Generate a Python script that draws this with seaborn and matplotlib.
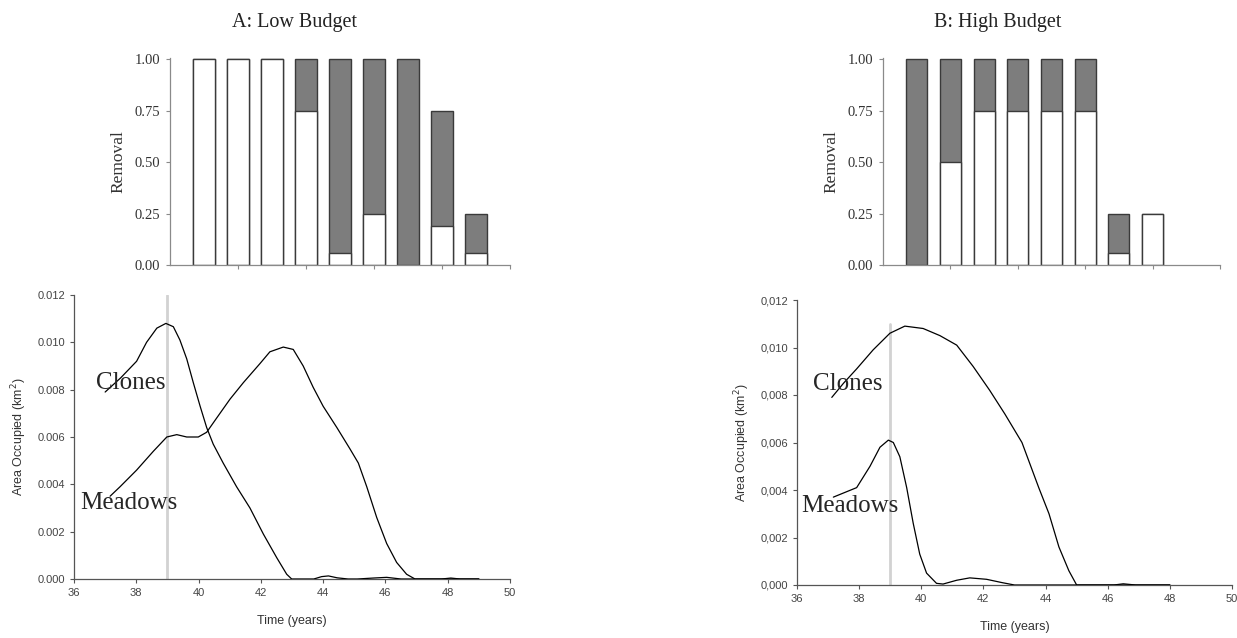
import matplotlib
matplotlib.use("Agg")
import numpy as np
import pandas as pd
import matplotlib.pyplot as plt
import seaborn as sns
from matplotlib.ticker import FuncFormatter

# ================= DATA =================
steps = [1, 2, 3, 4, 5, 6, 7, 8, 9]

# removal per step: white = lower part of the bar, grey = upper part
low_white = [1.00, 1.00, 1.00, 0.75, 0.06, 0.25, 0.00, 0.19, 0.06]
low_grey = [0.00, 0.00, 0.00, 0.25, 0.94, 0.75, 1.00, 0.56, 0.19]
high_white = [0.00, 0.50, 0.75, 0.75, 0.75, 0.75, 0.06, 0.25, 0.00]
high_grey = [1.00, 0.50, 0.25, 0.25, 0.25, 0.25, 0.19, 0.00, 0.00]

# area occupied (km2), low budget
low_clones_t = [37.00, 37.50, 38.01, 38.33, 38.66, 38.95, 39.19, 39.40, 39.62, 39.83,
                40.05, 40.26, 40.47, 40.79, 41.22, 41.65, 42.08, 42.51, 42.83, 42.99,
                43.70, 43.95, 44.17, 44.45, 44.80, 45.10, 45.60, 46.04, 46.50, 49.00]
low_clones_v = [0.0079, 0.0085, 0.0092, 0.0100, 0.0106, 0.0108, 0.01066, 0.0101, 0.0093, 0.0083,
                0.0073, 0.0064, 0.0057, 0.0049, 0.0039, 0.0030, 0.0019, 0.0009, 0.0002, 0.0,
                0.0, 0.0001, 0.00013, 0.00005, 0.0, 0.0, 0.00004, 0.00007, 0.0, 0.0]
low_meadows_t = [37.16, 37.48, 38.01, 38.55, 38.98, 39.30, 39.62, 39.99, 40.26, 40.58,
                 41.01, 41.44, 41.97, 42.29, 42.72, 43.04, 43.36, 43.68, 44.00, 44.44,
                 44.86, 45.13, 45.40, 45.72, 46.04, 46.36, 46.68, 46.95, 47.80, 48.10,
                 48.40, 49.00]
low_meadows_v = [0.0035, 0.0039, 0.0046, 0.0054, 0.0060, 0.0061, 0.0060, 0.0060, 0.0062, 0.0068,
                 0.0076, 0.0083, 0.0091, 0.0096, 0.0098, 0.0097, 0.0090, 0.0081, 0.0073, 0.0064,
                 0.0055, 0.0049, 0.0039, 0.0026, 0.0015, 0.0007, 0.0002, 0.0, 0.0, 0.00004,
                 0.0, 0.0]

# area occupied (km2), high budget
high_clones_t = [37.12, 37.50, 37.92, 38.45, 38.99, 39.47, 40.06, 40.60, 41.14, 41.67,
                 42.20, 42.69, 43.24, 43.78, 44.11, 44.43, 44.75, 45.00, 48.00]
high_clones_v = [0.0079, 0.0085, 0.0091, 0.0099, 0.0106, 0.0109, 0.0108, 0.0105, 0.0101, 0.0092,
                 0.0082, 0.0072, 0.0060, 0.0041, 0.0030, 0.0016, 0.0006, 0.0, 0.0]
high_meadows_t = [37.17, 37.92, 38.35, 38.67, 38.94, 39.10, 39.31, 39.53, 39.74, 39.95,
                  40.17, 40.49, 40.70, 41.14, 41.56, 42.10, 42.60, 43.00, 46.20, 46.50,
                  46.90, 48.00]
high_meadows_v = [0.0037, 0.0041, 0.0050, 0.0058, 0.0061, 0.0060, 0.0054, 0.0041, 0.0026, 0.0013,
                  0.0005, 0.00007, 0.00004, 0.0002, 0.0003, 0.00024, 0.0001, 0.0, 0.0, 0.00005,
                  0.0, 0.0]

SERIF = "Liberation Serif"
SANS = "Liberation Sans"
GREY = "#7d7d7d"
EDGE = "#3a3a3a"

sns.set_style("ticks")
plt.rcParams["font.family"] = [SANS, "DejaVu Sans"]

fig = plt.figure(figsize=(12.37, 6.38), dpi=100)
W, H = 1237, 638


def px_axes(x0, y0, x1, y1):
    return fig.add_axes([x0 / W, 1 - y1 / H, (x1 - x0) / W, (y1 - y0) / H])


def bar_panel(ax, white, grey):
    df = pd.DataFrame({"step": steps, "white": white,
                       "total": np.array(white) + np.array(grey)})
    sns.barplot(data=df, x="step", y="total", color=GREY, edgecolor=EDGE,
                linewidth=1.0, width=0.62, saturation=1, errorbar=None, ax=ax)
    sns.barplot(data=df, x="step", y="white", color="white", edgecolor=EDGE,
                linewidth=1.0, width=0.62, saturation=1, errorbar=None, ax=ax)
    # empty segments draw nothing
    for p in ax.patches:
        if p.get_height() == 0:
            p.set_visible(False)
    ax.set_xlim(-1, 9)
    ax.set_ylim(0, 1.005)
    ax.set_xticks([1, 3, 5, 7, 9])
    ax.set_xticklabels([])
    ax.set_xlabel("")
    ax.set_yticks([0, 0.25, 0.5, 0.75, 1.0])
    ax.yaxis.set_major_formatter(FuncFormatter(lambda v, p: f"{v:.2f}"))
    for lab in ax.get_yticklabels():
        lab.set_fontfamily(SERIF)
        lab.set_fontsize(10.5)
        lab.set_color("#333333")
    ax.set_ylabel("Removal", fontfamily=SERIF, fontsize=12.5, color="#333333", labelpad=6)
    sns.despine(ax=ax)
    for s in ["left", "bottom"]:
        ax.spines[s].set_color("#8a8a8a")
        ax.spines[s].set_linewidth(0.9)
    ax.tick_params(length=3, width=0.8, color="#8a8a8a", pad=4)


def line_panel(ax, ct, cv, mt, mv, comma, vtop, clones_xy, meadows_xy):
    ax.axvline(39, ymin=0, ymax=vtop, color="#d2d2d2", lw=2, zorder=1)
    sns.lineplot(x=ct, y=cv, color="black", lw=0.9, ax=ax, zorder=3)
    sns.lineplot(x=mt, y=mv, color="black", lw=0.9, ax=ax, zorder=3)
    ax.set_xlim(36, 50)
    ax.set_ylim(0, 0.012)
    ax.set_xticks(range(36, 51, 2))
    ax.set_yticks(np.arange(0, 0.0121, 0.002))
    if comma:
        ax.yaxis.set_major_formatter(FuncFormatter(lambda v, p: f"{v:.3f}".replace(".", ",")))
    else:
        ax.yaxis.set_major_formatter(FuncFormatter(lambda v, p: f"{v:.3f}"))
    ax.tick_params(labelsize=8, labelcolor="#444444", length=3, width=0.8, color="#555555")
    ax.set_xlabel("Time (years)", fontsize=9, color="#333333", labelpad=12)
    ax.set_ylabel("Area Occupied (km$^2$)", fontsize=9, color="#333333", labelpad=6)
    sns.despine(ax=ax)
    for s in ["left", "bottom"]:
        ax.spines[s].set_color("#555555")
        ax.spines[s].set_linewidth(0.9)
    ax.text(*clones_xy, "Clones", fontfamily=SERIF, fontsize=18, ha="center", va="center", zorder=4)
    ax.text(*meadows_xy, "Meadows", fontfamily=SERIF, fontsize=18, ha="center", va="center", zorder=4)


# ================= TOP: BARS =================
ax_a = px_axes(170, 58, 510, 265)
bar_panel(ax_a, low_white, low_grey)
ax_b = px_axes(883, 58, 1220, 265)
bar_panel(ax_b, high_white, high_grey)

fig.text(295 / W, 1 - 22 / H, "A: Low Budget", fontfamily=SERIF, fontsize=14.5,
         ha="center", va="center", color="#222222")
fig.text(998 / W, 1 - 22 / H, "B: High Budget", fontfamily=SERIF, fontsize=14.5,
         ha="center", va="center", color="#222222")

# ================= BOTTOM: AREA =================
ax_c = px_axes(74, 295, 510, 579)
line_panel(ax_c, low_clones_t, low_clones_v, low_meadows_t, low_meadows_v,
           comma=False, vtop=1.0, clones_xy=(37.82, 0.0083), meadows_xy=(37.77, 0.00321))
ax_d = px_axes(797, 300, 1232, 585)
line_panel(ax_d, high_clones_t, high_clones_v, high_meadows_t, high_meadows_v,
           comma=True, vtop=0.915, clones_xy=(37.63, 0.00846), meadows_xy=(37.7, 0.00333))

fig.savefig("out.png", dpi=100, facecolor="white")
